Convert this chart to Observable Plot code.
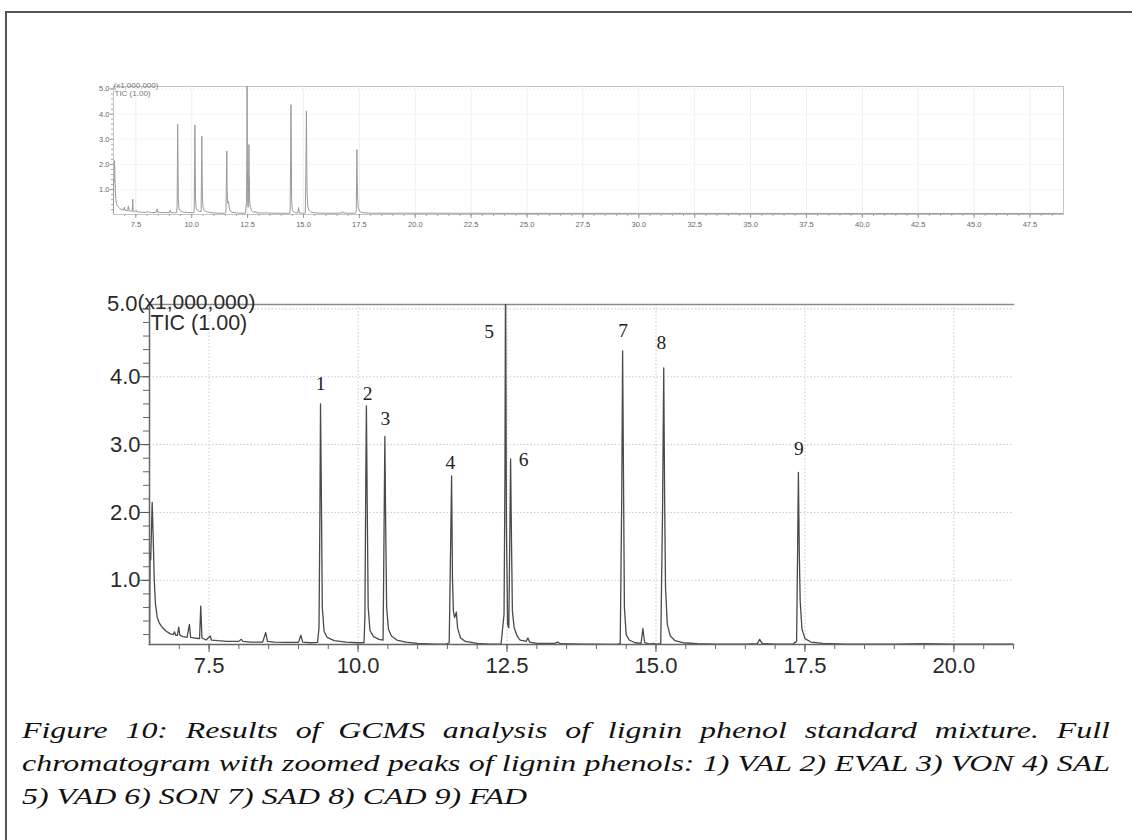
<!DOCTYPE html>
<html>
<head>
<meta charset="utf-8">
<script src="https://cdn.jsdelivr.net/npm/d3@7"></script>
<script src="https://cdn.jsdelivr.net/npm/@observablehq/plot@0.6"></script>
<style>
  html, body { margin: 0; padding: 0; background: #fff; width: 1132px; height: 840px; overflow: hidden; position: relative; }
  #frameLeft { position: absolute; left: 5px; top: 11px; width: 2px; height: 840px; background: #555; }
  #frameTop { position: absolute; left: 5px; top: 11px; width: 1127px; height: 2px; background: #555; }
  #top { position: absolute; left: 0; top: 60px; }
  #bottom { position: absolute; left: 0; top: 270px; }
  #caption { position: absolute; left: 22px; top: 714px; width: 818px; transform: scaleX(1.33); transform-origin: 0 0;
             font-family: "Liberation Serif", "Times New Roman", serif; font-style: italic; font-size: 24px; color: #111; }
  #caption div { line-height: 33px; white-space: nowrap; }
  #caption .j { text-align: justify; text-align-last: justify; }
</style>
</head>
<body>
<div id="frameLeft"></div>
<div id="frameTop"></div>
<div id="top"></div>
<div id="bottom"></div>
<div id="caption">
  <div class="j">Figure 10: Results of GCMS analysis of lignin phenol standard mixture. Full</div>
  <div class="j">chromatogram with zoomed peaks of lignin phenols: 1) VAL 2) EVAL 3) VON 4) SAL</div>
  <div>5) VAD 6) SON 7) SAD 8) CAD 9) FAD</div>
</div>
<script>
// Retention time (min) of each trace point
const times = [
  6.50, 6.51, 6.52, 6.545, 6.56, 6.58, 6.60, 6.63, 6.67, 6.72, 6.78, 6.85, 6.90, 6.92, 6.94, 6.97, 6.99, 7.01,
  7.06, 7.13, 7.17, 7.19, 7.25, 7.34, 7.36, 7.38, 7.45, 7.52, 7.54, 7.65, 7.80, 8.00, 8.04, 8.07, 8.20, 8.40,
  8.45, 8.48, 8.60, 8.80, 9.00, 9.04, 9.07, 9.20, 9.32, 9.345, 9.36, 9.37, 9.385, 9.40, 9.43, 9.48, 9.60, 9.80,
  10.00, 10.10, 10.115, 10.13, 10.14, 10.155, 10.17, 10.20, 10.26, 10.35, 10.42, 10.435, 10.45, 10.465, 10.48,
  10.51, 10.56, 10.65, 10.80, 11.00, 11.30, 11.48, 11.53, 11.55, 11.57, 11.585, 11.60, 11.62, 11.65, 11.67,
  11.72, 11.80, 12.00, 12.20, 12.40, 12.45, 12.465, 12.475, 12.49, 12.51, 12.53, 12.545, 12.56, 12.575, 12.59,
  12.62, 12.67, 12.70, 12.72, 12.77, 12.82, 12.85, 12.88, 13.00, 13.30, 13.35, 13.40, 13.80, 14.00, 14.35,
  14.40, 14.425, 14.44, 14.455, 14.47, 14.50, 14.55, 14.65, 14.75, 14.78, 14.81, 14.90, 14.95, 15.00, 15.08,
  15.11, 15.13, 15.145, 15.16, 15.19, 15.24, 15.32, 15.45, 15.70, 16.00, 16.50, 16.70, 16.74, 16.78, 17.00,
  17.30, 17.36, 17.375, 17.39, 17.405, 17.42, 17.45, 17.50, 17.60, 17.80, 18.20, 19.00, 19.50, 20.00, 21.00,
  25.00, 30.00, 40.00, 49.00
];
// TIC intensity (x1,000,000) at each time
const intensities = [
  0.06, 1.40, 1.30, 2.15, 1.70, 1.00, 0.65, 0.45, 0.36, 0.30, 0.25, 0.21, 0.20, 0.24, 0.19, 0.19, 0.31, 0.19,
  0.17, 0.16, 0.35, 0.16, 0.15, 0.14, 0.62, 0.15, 0.12, 0.18, 0.12, 0.11, 0.10, 0.10, 0.13, 0.10, 0.09, 0.09,
  0.23, 0.10, 0.09, 0.085, 0.085, 0.19, 0.09, 0.08, 0.085, 0.30, 2.00, 3.60, 2.20, 0.60, 0.25, 0.16, 0.11, 0.09,
  0.08, 0.08, 0.45, 2.50, 3.57, 2.00, 0.60, 0.26, 0.17, 0.13, 0.12, 1.60, 3.12, 1.70, 0.60,
  0.28, 0.18, 0.12, 0.09, 0.07, 0.06, 0.06, 0.08, 1.30, 2.54, 1.00, 0.55, 0.45, 0.53, 0.30,
  0.15, 0.10, 0.07, 0.06, 0.06, 0.50, 2.50, 5.60, 1.80, 0.35, 0.30, 1.50, 2.79, 1.60, 0.55,
  0.30, 0.18, 0.14, 0.12, 0.11, 0.10, 0.15, 0.09, 0.07, 0.07, 0.09, 0.065, 0.06, 0.06, 0.055,
  0.07, 2.20, 4.38, 2.50, 0.60, 0.20, 0.12, 0.08, 0.07, 0.29, 0.08, 0.06, 0.07, 0.06, 0.065,
  2.00, 4.13, 2.20, 0.90, 0.35, 0.18, 0.11, 0.08, 0.065, 0.06, 0.06, 0.065, 0.13, 0.07, 0.06,
  0.06, 0.10, 1.30, 2.59, 1.40, 0.70, 0.28, 0.14, 0.09, 0.07, 0.06, 0.06, 0.065, 0.06, 0.06,
  0.055, 0.055, 0.05, 0.05
];
// Peak labels
const peakNames = ["1", "2", "3", "4", "5", "6", "7", "8", "9"];
const peakLabelTimes = [9.37, 10.16, 10.46, 11.55, 12.20, 12.78, 14.45, 15.09, 17.40];
const peakLabelValues = [3.90, 3.75, 3.38, 2.74, 4.66, 2.78, 4.68, 4.50, 2.94];
// Axis ticks
const topXTicks = [7.5, 10.0, 12.5, 15.0, 17.5, 20.0, 22.5, 25.0, 27.5, 30.0, 32.5, 35.0, 37.5, 40.0, 42.5, 45.0, 47.5];
const bottomXTicks = [7.5, 10.0, 12.5, 15.0, 17.5, 20.0];
const yTicks = [1.0, 2.0, 3.0, 4.0, 5.0];
const yTopLabel = [5.0];

const trace = times.map((t, i) => ({t, v: intensities[i]}));
const peaks = peakNames.map((n, i) => ({n, t: peakLabelTimes[i], v: peakLabelValues[i]}));
const fmt = d => d.toFixed(1);
const blank = () => "";

// ---------- overview chromatogram ----------
const topXDomain = [6.5, 49.0];
const topYDomain = [0.01, 5.1];
const topMinorX = d3.range(7.0, 49.0, 0.5);
const topMinorY = d3.range(0.2, 5.01, 0.2);
const topPlot = Plot.plot({
  width: 1132, height: 180,
  marginLeft: 113, marginRight: 69, marginTop: 26, marginBottom: 26,
  style: {fontFamily: "'Liberation Sans', Arial, sans-serif", background: "transparent"},
  x: {domain: topXDomain},
  y: {domain: topYDomain},
  marks: [
    Plot.ruleX(topXTicks, {stroke: "#f0f0f0"}),
    Plot.ruleY(yTicks, {stroke: "#eeeeee", strokeDasharray: "2,2"}),
    Plot.frame({stroke: "#c4c4c4"}),
    Plot.line(trace, {x: "t", y: "v", stroke: "#9a9a9a", strokeWidth: 1, clip: true}),
    Plot.axisX(topMinorX, {tickSize: 2, tickFormat: blank, stroke: "#aaa", label: null}),
    Plot.axisX(topXTicks, {tickSize: 4, tickPadding: 3, tickFormat: fmt, fontSize: 7.5, fill: "#666", stroke: "#999", label: null}),
    Plot.axisY(topMinorY, {tickSize: 2, tickFormat: blank, stroke: "#aaa", label: null}),
    Plot.axisY(yTicks, {tickSize: 3, tickPadding: 1, tickFormat: fmt, fontSize: 7.5, fill: "#666", stroke: "#999", label: null}),
    Plot.text(["(x1,000,000)"], {frameAnchor: "top-left", textAnchor: "start", dx: 0, dy: -4, fontSize: 8, fill: "#777"}),
    Plot.text(["TIC (1.00)"], {frameAnchor: "top-left", textAnchor: "start", dx: 1, dy: 4, fontSize: 8, fill: "#777"})
  ]
});
document.getElementById("top").appendChild(topPlot);

// ---------- zoomed chromatogram ----------
const botXDomain = [6.5, 21.0];
const botYDomain = [0.054, 5.065];
const botMinorX = d3.range(7.0, 21.01, 0.5);
const botMinorY = d3.range(0.2, 5.01, 0.2);
const botPlot = Plot.plot({
  width: 1132, height: 410,
  marginLeft: 149, marginRight: 119, marginTop: 34, marginBottom: 36,
  style: {fontFamily: "'Liberation Sans', Arial, sans-serif", background: "transparent"},
  x: {domain: botXDomain},
  y: {domain: botYDomain},
  marks: [
    Plot.ruleX(bottomXTicks, {stroke: "#c8c8c8", strokeDasharray: "1.5,2"}),
    Plot.ruleY(yTicks, {stroke: "#c8c8c8", strokeDasharray: "1.5,2"}),
    Plot.frame({anchor: "top", stroke: "#8a8a8a", strokeWidth: 1.5}),
    Plot.line(trace, {x: "t", y: "v", stroke: "#4a4a4a", strokeWidth: 1.3, clip: true}),
    Plot.frame({anchor: "left", stroke: "#666", strokeWidth: 1.5}),
    Plot.frame({anchor: "bottom", stroke: "#666", strokeWidth: 1.5}),
    Plot.axisX(botMinorX, {tickSize: 5, tickFormat: blank, stroke: "#666", label: null}),
    Plot.axisX(bottomXTicks, {tickSize: 8, tickPadding: 5, tickFormat: fmt, fontSize: 22, fill: "#2a2a2a", stroke: "#555", label: null}),
    Plot.axisY(botMinorY, {tickSize: 6, tickFormat: blank, stroke: "#666", label: null}),
    Plot.axisY(yTicks, {tickSize: 9, tickPadding: 0, tickFormat: d => (d < 5 ? fmt(d) : ""), fontSize: 22, fill: "#2a2a2a", stroke: "#555", label: null}),
    Plot.text(yTopLabel, {y: d => d, frameAnchor: "left", text: fmt, textAnchor: "end", dx: -12, dy: -5, fontSize: 22, fill: "#2a2a2a"}),
    Plot.text(["(x1,000,000)"], {frameAnchor: "top-left", textAnchor: "start", dx: -12, dy: -10, fontSize: 21, fill: "#2a2a2a"}),
    Plot.text(["TIC (1.00)"], {frameAnchor: "top-left", textAnchor: "start", dx: 1, dy: 10, fontSize: 21.5, fill: "#2a2a2a"}),
    Plot.text(peaks, {x: "t", y: "v", text: "n", fontFamily: "'Liberation Serif', 'Times New Roman', serif", fontSize: 19.5, fill: "#222"})
  ]
});
document.getElementById("bottom").appendChild(botPlot);
</script>
</body>
</html>
